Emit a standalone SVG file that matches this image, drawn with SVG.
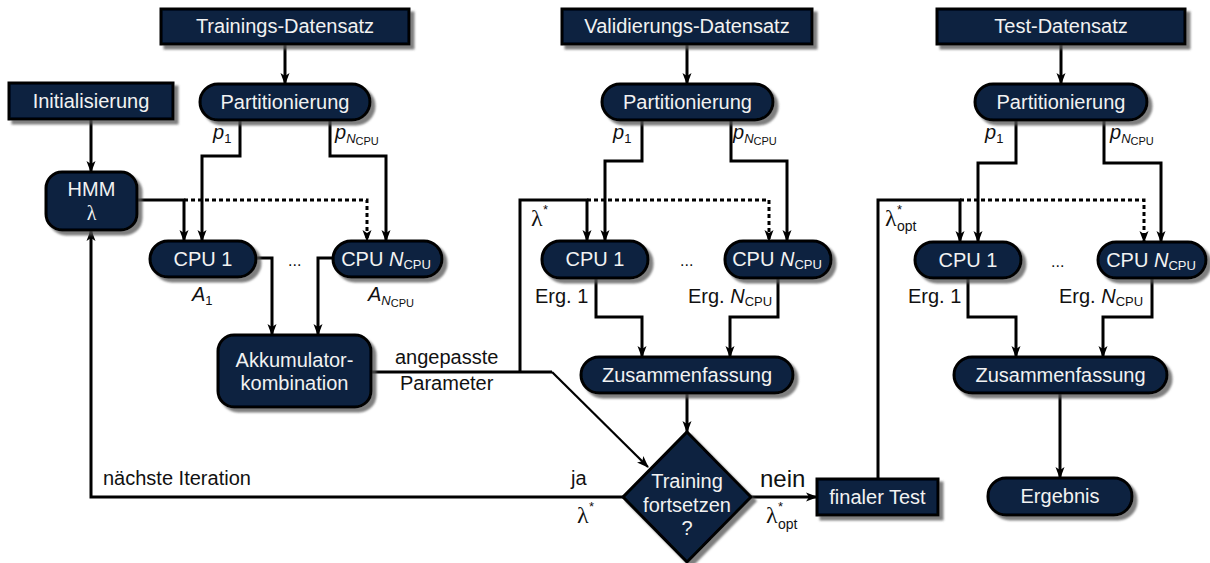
<svg xmlns="http://www.w3.org/2000/svg" width="1210" height="563" viewBox="0 0 1210 563">
  <defs>
    <filter id="shadow" x="-10%" y="-10%" width="130%" height="140%">
      <feDropShadow dx="4" dy="4" stdDeviation="1" flood-color="#555" flood-opacity="0.75"/>
    </filter>
    <marker id="arrow" markerUnits="userSpaceOnUse" markerWidth="12" markerHeight="12" viewBox="0 0 12 12" refX="11" refY="6" orient="auto">
      <path d="M0,1.5 L12,6 L0,10.5 L3,6 Z" fill="#000"/>
    </marker>
  </defs>
  <style>
    .node { fill: #0b2241; stroke: #000; stroke-width: 3; filter: url(#shadow); }
    .nt { font-family: "Liberation Sans", Arial, sans-serif; font-size: 20px; fill: #f2f2f2; text-anchor: middle; }
    .lbl { font-family: "Liberation Sans", Arial, sans-serif; font-size: 20px; fill: #111; }
    .it { font-style: italic; }
    .sub { font-size: 13px; }
    .sub2 { font-size: 11px; }
    .lam { font-family: "Liberation Serif", "Times New Roman", serif; font-size: 24px; fill: #111; }
    .star { font-family: "Liberation Sans", Arial, sans-serif; font-size: 13px; fill: #111; }
    .conn { fill: none; stroke: #000; stroke-width: 3; }
    .arr { marker-end: url(#arrow); }
    .dot { stroke-dasharray: 4 3; }
  </style>
  <rect width="1210" height="563" fill="#fff"/>

  <!-- connectors -->
  <g id="connectors">
    <!-- training branch -->
    <path class="conn arr" d="M285,44 V84"/>
    <path class="conn arr" d="M91,119 V172"/>
    <path class="conn arr" d="M240,120 V156 H202 V241"/>
    <path class="conn arr" d="M330,120 V156 H386 V241"/>
    <path class="conn arr" d="M137,200 H184 V241"/>
    <path class="conn arr dot" d="M184,200 H367 V241"/>
    <path class="conn arr" d="M256,258 H272 V335"/>
    <path class="conn arr" d="M333,258 H318 V335"/>
    <path class="conn" d="M371,372 H552"/>
    <path class="conn arr" d="M552,372 L648,467" style="stroke-width:2.2"/>
    <!-- validation branch -->
    <path class="conn arr" d="M520,372 V200 H587 V241"/>
    <path class="conn arr dot" d="M587,200 H769 V241"/>
    <path class="conn arr" d="M687,44 V84"/>
    <path class="conn arr" d="M642,120 V161 H605 V241"/>
    <path class="conn arr" d="M731,120 V161 H787 V241"/>
    <path class="conn arr" d="M596,278 V317 H642 V357"/>
    <path class="conn arr" d="M778,278 V317 H730 V357"/>
    <path class="conn arr" d="M687,393 V432"/>
    <!-- decision outputs -->
    <path class="conn arr" d="M623,497 H91 V230"/>
    <path class="conn arr" d="M751,497 H817"/>
    <!-- test branch -->
    <path class="conn arr" d="M878,479 V200 H960 V242"/>
    <path class="conn arr dot" d="M960,200 H1144 V242"/>
    <path class="conn arr" d="M1061,44 V84"/>
    <path class="conn arr" d="M1016,120 V163 H978 V242"/>
    <path class="conn arr" d="M1104,120 V163 H1161 V242"/>
    <path class="conn arr" d="M968,278 V317 H1016 V357"/>
    <path class="conn arr" d="M1152,278 V317 H1103 V357"/>
    <path class="conn arr" d="M1060,393 V478"/>
  </g>

  <!-- training column -->
  <g id="train-data">
    <rect class="node" x="161" y="9" width="248" height="35"/>
    <text class="nt" x="285" y="33">Trainings-Datensatz</text>
  </g>
  <g id="init">
    <rect class="node" x="9" y="83" width="164" height="36"/>
    <text class="nt" x="91" y="108">Initialisierung</text>
  </g>
  <g id="train-part">
    <rect class="node" x="200" y="84" width="170" height="36" rx="18"/>
    <text class="nt" x="285" y="109">Partitionierung</text>
  </g>
  <g id="hmm">
    <rect class="node" x="46" y="172" width="91" height="58" rx="16"/>
    <text class="nt" x="91.5" y="196">HMM</text>
    <text class="nt" x="91.5" y="220" style="font-family:'Liberation Serif','Times New Roman',serif">λ</text>
  </g>
  <g id="train-cpu1">
    <rect class="node" x="150" y="241" width="106" height="36" rx="18"/>
    <text class="nt" x="203" y="266">CPU 1</text>
  </g>
  <g id="train-cpun">
    <rect class="node" x="333" y="241" width="109" height="36" rx="18"/>
    <text class="nt" x="386" y="266">CPU <tspan class="it">N</tspan><tspan class="sub" dy="3">CPU</tspan></text>
  </g>
  <g id="akku">
    <rect class="node" x="218" y="335" width="153" height="72" rx="16"/>
    <text class="nt" x="294.5" y="367">Akkumulator-</text>
    <text class="nt" x="294.5" y="390">kombination</text>
  </g>

  <!-- validation column -->
  <g id="val-data">
    <rect class="node" x="562" y="9" width="250" height="35"/>
    <text class="nt" x="687" y="33">Validierungs-Datensatz</text>
  </g>
  <g id="val-part">
    <rect class="node" x="602" y="84" width="171" height="36" rx="18"/>
    <text class="nt" x="687.5" y="109">Partitionierung</text>
  </g>
  <g id="val-cpu1">
    <rect class="node" x="542" y="241" width="106" height="37" rx="18"/>
    <text class="nt" x="595" y="266">CPU 1</text>
  </g>
  <g id="val-cpun">
    <rect class="node" x="725" y="241" width="106" height="37" rx="18"/>
    <text class="nt" x="777" y="266">CPU <tspan class="it">N</tspan><tspan class="sub" dy="3">CPU</tspan></text>
  </g>
  <g id="val-sum">
    <rect class="node" x="581" y="357" width="212" height="36" rx="18"/>
    <text class="nt" x="687" y="382">Zusammenfassung</text>
  </g>
  <g id="decision">
    <polygon class="node" points="687,432 751,497 687,562 623,497"/>
    <text class="nt" x="687" y="488">Training</text>
    <text class="nt" x="687" y="512">fortsetzen</text>
    <text class="nt" x="687" y="535">?</text>
  </g>
  <g id="final-test">
    <rect class="node" x="817" y="479" width="121" height="36"/>
    <text class="nt" x="877.5" y="504">finaler Test</text>
  </g>

  <!-- test column -->
  <g id="test-data">
    <rect class="node" x="937" y="9" width="248" height="35"/>
    <text class="nt" x="1061" y="33">Test-Datensatz</text>
  </g>
  <g id="test-part">
    <rect class="node" x="975" y="84" width="172" height="36" rx="18"/>
    <text class="nt" x="1061" y="109">Partitionierung</text>
  </g>
  <g id="test-cpu1">
    <rect class="node" x="915" y="242" width="106" height="36" rx="18"/>
    <text class="nt" x="968" y="267">CPU 1</text>
  </g>
  <g id="test-cpun">
    <rect class="node" x="1098" y="242" width="108" height="36" rx="18"/>
    <text class="nt" x="1151" y="267">CPU <tspan class="it">N</tspan><tspan class="sub" dy="3">CPU</tspan></text>
  </g>
  <g id="test-sum">
    <rect class="node" x="954" y="357" width="213" height="36" rx="18"/>
    <text class="nt" x="1060.5" y="382">Zusammenfassung</text>
  </g>
  <g id="result">
    <rect class="node" x="988" y="478" width="144" height="37" rx="18"/>
    <text class="nt" x="1060" y="503">Ergebnis</text>
  </g>

  <!-- connector labels -->
  <g id="labels">
    <text class="lbl" x="213" y="139"><tspan class="it">p</tspan><tspan class="sub" dy="4">1</tspan></text>
    <text class="lbl" x="335" y="139"><tspan class="it">p</tspan><tspan class="sub it" dy="4">N</tspan><tspan class="sub2" dy="2">CPU</tspan></text>
    <text class="lbl" x="613" y="139"><tspan class="it">p</tspan><tspan class="sub" dy="4">1</tspan></text>
    <text class="lbl" x="733" y="139"><tspan class="it">p</tspan><tspan class="sub it" dy="4">N</tspan><tspan class="sub2" dy="2">CPU</tspan></text>
    <text class="lbl" x="985" y="139"><tspan class="it">p</tspan><tspan class="sub" dy="4">1</tspan></text>
    <text class="lbl" x="1110" y="139"><tspan class="it">p</tspan><tspan class="sub it" dy="4">N</tspan><tspan class="sub2" dy="2">CPU</tspan></text>

    <text class="lbl" x="288" y="266" style="font-size:16px">...</text>
    <text class="lbl" x="680" y="266" style="font-size:16px">...</text>
    <text class="lbl" x="1051" y="267" style="font-size:16px">...</text>

    <text class="lbl" x="192" y="301"><tspan class="it">A</tspan><tspan class="sub" dy="4">1</tspan></text>
    <text class="lbl" x="368" y="301"><tspan class="it">A</tspan><tspan class="sub it" dy="4">N</tspan><tspan class="sub2" dy="2">CPU</tspan></text>

    <text class="lbl" x="535" y="303">Erg. 1</text>
    <text class="lbl" x="688" y="303">Erg. <tspan class="it">N</tspan><tspan class="sub" dy="3">CPU</tspan></text>
    <text class="lbl" x="908" y="303">Erg. 1</text>
    <text class="lbl" x="1059" y="303">Erg. <tspan class="it">N</tspan><tspan class="sub" dy="3">CPU</tspan></text>

    <text class="lbl" x="395" y="364">angepasste</text>
    <text class="lbl" x="400" y="390">Parameter</text>

    <text class="lambda lam" x="531" y="226">λ</text>
    <text class="star" x="543" y="214">*</text>
    <text class="lam" x="885" y="226">λ</text>
    <text class="star" x="897" y="214">*</text>
    <text class="lbl" x="897" y="231" style="font-size:14px">opt</text>

    <text class="lbl" x="103" y="485">nächste Iteration</text>
    <text class="lbl" x="571" y="485">ja</text>
    <text class="lam" x="577" y="523">λ</text>
    <text class="star" x="589" y="511">*</text>
    <text class="lbl" x="760" y="487" style="font-size:24px">nein</text>
    <text class="lam" x="766" y="523">λ</text>
    <text class="star" x="778" y="511">*</text>
    <text class="lbl" x="778" y="529" style="font-size:14px">opt</text>
  </g>
</svg>
